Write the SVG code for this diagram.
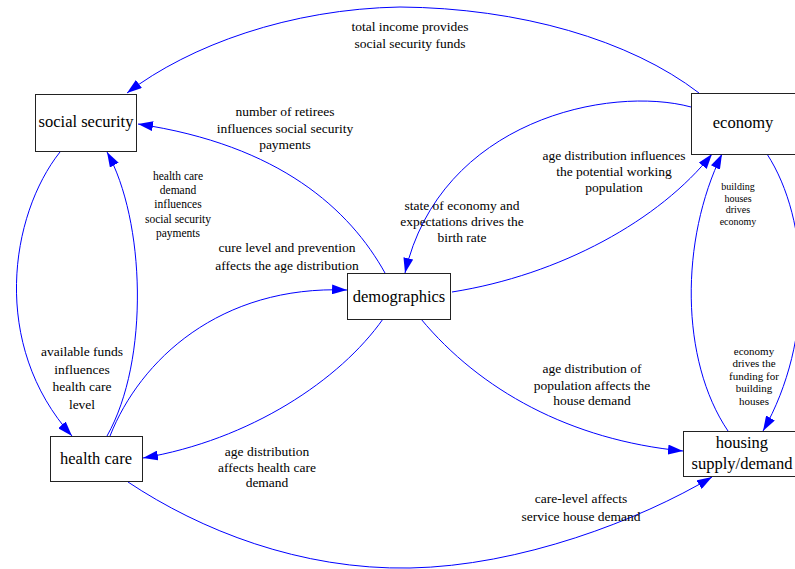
<svg xmlns="http://www.w3.org/2000/svg" width="795" height="569" viewBox="0 0 795 569">
<style>
.node rect{fill:#fff;stroke:#222;stroke-width:1}
.node text{font-family:"Liberation Serif","Times New Roman",serif;font-size:16.5px;fill:#000;text-anchor:middle}
.edge path{fill:none;stroke:#0000ff;stroke-width:1}
.lbl{font-family:"Liberation Serif","Times New Roman",serif;font-size:13.5px;fill:#000;text-anchor:middle}
.tight{font-size:11.5px}
</style>
<defs>
<marker id="ah" markerUnits="userSpaceOnUse" markerWidth="15" markerHeight="10" viewBox="0 0 15 10" refX="15" refY="5" orient="auto">
<path d="M0,0 L15,5 L0,10 z" fill="#0000ff"/>
</marker>
</defs>
<rect width="795" height="569" fill="#fff"/>
<g id="connectors" class="edge">
<path d="M699,93 C630,40 520,8 400,7 C290,9 190,45 127,93" marker-end="url(#ah)"/>
<path d="M385,273 C350,210 280,145 138,124" marker-end="url(#ah)"/>
<path d="M60,152 C10,215 -10,345 72,436" marker-end="url(#ah)"/>
<path d="M107,436 C150,360 145,220 107,152" marker-end="url(#ah)"/>
<path d="M110,436 C140,360 220,285 347,290" marker-end="url(#ah)"/>
<path d="M383,319 C340,380 250,440 143,458" marker-end="url(#ah)"/>
<path d="M691,107 C610,85 440,120 405,273" marker-end="url(#ah)"/>
<path d="M452,292 C560,275 660,220 712,154" marker-end="url(#ah)"/>
<path d="M728,431 C680,360 680,240 722,154" marker-end="url(#ah)"/>
<path d="M767,154 C810,220 815,340 763,431" marker-end="url(#ah)"/>
<path d="M421,319 C480,390 570,440 683,451" marker-end="url(#ah)"/>
<path d="M128,482 C200,530 300,570 410,568 C520,566 640,520 712,477" marker-end="url(#ah)"/>
</g>
<g id="labels">
<text class="lbl" x="410" y="31">total income provides</text>
<text class="lbl" x="410" y="48">social security  funds</text>
<text class="lbl" x="285" y="116">number of retirees</text>
<text class="lbl" x="285" y="133">influences social security</text>
<text class="lbl" x="285" y="149">payments</text>
<text class="lbl tight" x="178" y="180">health care</text>
<text class="lbl tight" x="178" y="194">demand</text>
<text class="lbl tight" x="178" y="208">influences</text>
<text class="lbl tight" x="178" y="223">social security</text>
<text class="lbl tight" x="178" y="237">payments</text>
<text class="lbl" x="287" y="252">cure level and prevention</text>
<text class="lbl" x="287" y="270">affects the age distribution</text>
<text class="lbl" x="462" y="210">state of economy  and</text>
<text class="lbl" x="462" y="226">expectations drives the</text>
<text class="lbl" x="462" y="242">birth rate</text>
<text class="lbl" x="614" y="160">age distribution influences</text>
<text class="lbl" x="614" y="176">the potential working</text>
<text class="lbl" x="614" y="192">population</text>
<text class="lbl tight" x="738" y="190" style="font-size:10px">building</text>
<text class="lbl tight" x="738" y="202" style="font-size:10px">houses</text>
<text class="lbl tight" x="738" y="213" style="font-size:10px">drives</text>
<text class="lbl tight" x="738" y="225" style="font-size:10px">economy</text>
<text class="lbl" x="82" y="356">available funds</text>
<text class="lbl" x="82" y="374">influences</text>
<text class="lbl" x="82" y="391">health care</text>
<text class="lbl" x="82" y="409">level</text>
<text class="lbl" x="267" y="456">age distribution</text>
<text class="lbl" x="267" y="472">affects health care</text>
<text class="lbl" x="267" y="487">demand</text>
<text class="lbl" x="592" y="373">age distribution of</text>
<text class="lbl" x="592" y="390">population affects the</text>
<text class="lbl" x="592" y="405">house demand</text>
<text class="lbl tight" x="754" y="355" style="font-size:11px">economy</text>
<text class="lbl tight" x="754" y="367" style="font-size:11px">drives the</text>
<text class="lbl tight" x="754" y="380" style="font-size:11px">funding for</text>
<text class="lbl tight" x="754" y="392" style="font-size:11px">building</text>
<text class="lbl tight" x="754" y="405" style="font-size:11px">houses</text>
<text class="lbl" x="581" y="503">care-level affects</text>
<text class="lbl" x="581" y="521">service house demand</text>
</g>
<g id="social-security" class="node">
<rect x="35.5" y="94.5" width="101" height="57"/>
<text x="86" y="127">social security</text>
</g>
<g id="economy" class="node">
<rect x="691.5" y="93.5" width="104" height="61"/>
<text x="743" y="128">economy</text>
</g>
<g id="demographics" class="node">
<rect x="347.5" y="273.5" width="103" height="46"/>
<text x="399" y="302">demographics</text>
</g>
<g id="health-care" class="node">
<rect x="50.5" y="436.5" width="92" height="45"/>
<text x="96" y="464">health care</text>
</g>
<g id="housing" class="node">
<rect x="683.5" y="431.5" width="112" height="45"/>
<text x="742" y="448">housing</text>
<text x="742" y="469">supply/demand</text>
</g>
</svg>
